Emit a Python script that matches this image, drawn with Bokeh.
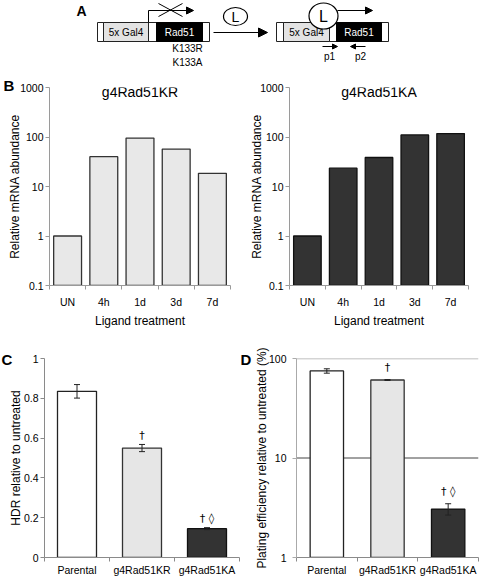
from bokeh.plotting import figure
from bokeh.layouts import column, row
from bokeh.models import (Range1d, FixedTicker, Label, Whisker, TeeHead, Title,
                          ColumnDataSource, Span, Arrow, NormalHead)
from bokeh.core.properties import value
from bokeh.embed import file_html
from bokeh.resources import INLINE

FONT = "Liberation Sans"
SYM_FONT = "DejaVu Sans"

# ---------------- data ----------------
time_points = ["UN", "4h", "1d", "3d", "7d"]
kr_mrna = [1, 40, 95, 57, 18.5]
ka_mrna = [1, 23.5, 38.5, 110, 117]
mrna_ticks = [0.1, 1, 10, 100, 1000]
mrna_tick_labels = ["0.1", "1", "10", "100", "1000"]

cell_lines = ["Parental", "g4Rad51KR", "g4Rad51KA"]
hdr_mean = [0.835, 0.55, 0.145]
hdr_err = [0.034, 0.018, 0.005]
hdr_ticks = [0, 0.2, 0.4, 0.6, 0.8, 1]
hdr_tick_labels = ["0", "0.2", "0.4", "0.6", "0.8", "1"]

plating_mean = [75, 60.8, 3.07]
plating_err = [3.8, 0.6, 0.4]
plating_ticks = [1, 10, 100]
plating_tick_labels = ["1", "10", "100"]

significance = ["", "\u2020", "\u2020 \u25ca"]

# ---------------- helpers ----------------
def base_fig(w, h, xr, yr, left, right, top, bottom, ytype="linear"):
    p = figure(width=w, height=h, x_range=xr, y_range=yr, y_axis_type=ytype,
               output_backend="svg", toolbar_location=None, title=None,
               min_border_left=left, min_border_right=right,
               min_border_top=top, min_border_bottom=bottom)
    p.outline_line_color = None
    p.xgrid.grid_line_color = None
    p.ygrid.grid_line_color = None
    p.background_fill_color = "white"
    p.border_fill_color = "white"
    return p


def style_axes(p, axis_color):
    for ax in p.axis:
        ax.axis_line_color = axis_color
        ax.major_tick_line_color = axis_color
        ax.minor_tick_line_color = axis_color
        ax.major_label_text_font = FONT
        ax.major_label_text_font_size = "10.5px"
        ax.major_label_text_color = "black"
        ax.axis_label_text_font = FONT
        ax.axis_label_text_font_size = "12px"
        ax.axis_label_text_font_style = "normal"
        ax.axis_label_text_color = "black"


def cat_xaxis(p, cats, standoff):
    centers = [i + 0.5 for i in range(len(cats))]
    p.xaxis.ticker = FixedTicker(ticks=centers, minor_ticks=list(range(len(cats) + 1)))
    p.xaxis.major_label_overrides = dict(zip(centers, cats))
    p.xaxis.major_tick_out = 0
    p.xaxis.major_tick_in = 0
    p.xaxis.minor_tick_out = 4
    p.xaxis.minor_tick_in = 0
    p.xaxis.major_label_standoff = standoff
    return centers


def y_ticks(p, ticks, labels, standoff, label_standoff):
    p.yaxis.ticker = FixedTicker(ticks=ticks)
    p.yaxis.major_label_overrides = dict(zip(ticks, labels))
    p.yaxis.major_tick_out = 4
    p.yaxis.major_tick_in = 0
    p.yaxis.minor_tick_line_color = None
    p.yaxis.major_label_standoff = standoff
    p.yaxis.axis_label_standoff = label_standoff


def panel_letter(p, txt, offset, standoff):
    p.add_layout(Title(text=txt, align="left", offset=offset, standoff=standoff,
                       text_font=FONT, text_font_size="15px",
                       text_font_style="bold", text_color="black"), "above")

# ---------------- panel A (schematic) ----------------
pA = figure(width=480, height=78, x_range=Range1d(0, 480), y_range=Range1d(78, 0),
            output_backend="svg", toolbar_location=None, title=None,
            x_axis_location=None, y_axis_location=None, min_border=0)
pA.outline_line_color = None
pA.xgrid.grid_line_color = None
pA.ygrid.grid_line_color = None

pA.quad(left=[97, 276], right=[209, 388], top=[22, 22], bottom=[41, 41],
        fill_color="white", line_color="#222222", line_width=1)
pA.quad(left=[103, 283], right=[148, 329], top=[22, 22], bottom=[41, 41],
        fill_color="#e3e3e3", line_color="#222222", line_width=1)
pA.quad(left=[156, 336], right=[202, 381], top=[22, 22], bottom=[41, 41],
        fill_color="black", line_color="black", line_width=1)
pA.text(x=[125.5, 306], y=[31.5, 31.5], text=["5x Gal4", "5x Gal4"],
        text_font=value(FONT), text_font_size="10px", text_align="center",
        text_baseline="middle", text_color="black")
pA.text(x=[179, 358.5], y=[31.5, 31.5], text=["Rad51", "Rad51"],
        text_font=value(FONT), text_font_size="10px", text_align="center",
        text_baseline="middle", text_color="white")
# left promoter arrow (blocked)
pA.segment(x0=[148], y0=[22], x1=[148], y1=[10], line_color="black", line_width=1)
pA.add_layout(Arrow(end=NormalHead(size=7, fill_color="black", line_color="black"),
                    x_start=148, y_start=10, x_end=193, y_end=10,
                    line_color="black", line_width=1))
pA.segment(x0=[158, 158], y0=[3, 16], x1=[182, 182], y1=[16, 3],
           line_color="black", line_width=1)
pA.text(x=[187, 187], y=[48, 62], text=["K133R", "K133A"], text_font=value(FONT),
        text_font_size="10px", text_align="center", text_baseline="middle",
        text_color="black")
# big arrow
pA.add_layout(Arrow(end=NormalHead(size=9, fill_color="black", line_color="black"),
                    x_start=213, y_start=32, x_end=267, y_end=32,
                    line_color="black", line_width=1))
# ligand ellipses
pA.ellipse(x=[235, 323], y=[16, 15.5], width=[24, 29], height=[18, 26],
           fill_color="white", line_color="black", line_width=1.2)
pA.text(x=[235, 323], y=[16.5, 16], text=["L", "L"], text_font=value(FONT),
        text_font_size=["14px", "16px"], text_align="center",
        text_baseline="middle", text_color="black")
# active promoter arrow
pA.add_layout(Arrow(end=NormalHead(size=7, fill_color="black", line_color="black"),
                    x_start=337, y_start=10, x_end=372, y_end=10,
                    line_color="black", line_width=1))
# primers
pA.add_layout(Arrow(end=NormalHead(size=5, fill_color="black", line_color="black"),
                    x_start=322, y_start=46, x_end=337, y_end=46,
                    line_color="black", line_width=1))
pA.add_layout(Arrow(end=NormalHead(size=5, fill_color="black", line_color="black"),
                    x_start=365, y_start=46, x_end=350, y_end=46,
                    line_color="black", line_width=1))
pA.text(x=[329, 360], y=[56, 56], text=["p1", "p2"], text_font=value(FONT),
        text_font_size="10px", text_align="center", text_baseline="middle",
        text_color="black")
pA.add_layout(Label(x=81, y=10, text="A", text_font=FONT, text_font_size="14px",
                    text_font_style="bold", text_align="center",
                    text_baseline="middle", text_color="black"))

# ---------------- panel B ----------------
def mrna_panel(vals, title, fill, line, left, right, label_standoff):
    p = base_fig(240, 252, Range1d(0, len(time_points)), Range1d(0.1, 1000),
                 left, right, 9, 36, ytype="log")
    style_axes(p, "#9a9a9a")
    xs = cat_xaxis(p, time_points, 6)
    y_ticks(p, mrna_ticks, mrna_tick_labels, 2, label_standoff)
    p.xaxis.axis_label = "Ligand treatment"
    p.xaxis.axis_label_standoff = 3
    p.yaxis.axis_label = "Relative mRNA abundance"
    src = ColumnDataSource(dict(x=xs, top=vals))
    p.vbar(x="x", top="top", bottom=0.1, width=0.77, source=src,
           fill_color=fill, line_color=line, line_width=1.3)
    p.add_layout(Label(x=len(time_points) / 2, y=800, text=title, text_font=FONT,
                       text_font_size="14px", text_align="center",
                       text_baseline="middle", text_color="black"))
    return p

pB1 = mrna_panel(kr_mrna, "g4Rad51KR", "#e8e8e8", "#333333", 49, 10, -5)
pB2 = mrna_panel(ka_mrna, "g4Rad51KA", "#333333", "#111111", 49, 12, -7)
panel_letter(pB1, "B", -46, -12)

# ---------------- panel C ----------------
bar_fills = ["#ffffff", "#e6e6e6", "#333333"]
bar_lines = ["#222222", "#333333", "#111111"]

pC = base_fig(240, 248, Range1d(0, len(cell_lines)), Range1d(0, 1), 44, 1, 25, 19)
style_axes(pC, "#8a8a8a")
xc = cat_xaxis(pC, cell_lines, 2)
y_ticks(pC, hdr_ticks, hdr_tick_labels, 2, -2)
pC.yaxis.axis_label = "HDR relative to untreated"
srcC = ColumnDataSource(dict(
    x=xc, top=hdr_mean,
    upper=[m + e for m, e in zip(hdr_mean, hdr_err)],
    lower=[m - e for m, e in zip(hdr_mean, hdr_err)],
    fill=bar_fills, line=bar_lines, sig=significance))
pC.vbar(x="x", top="top", bottom=0, width=0.6, source=srcC,
        fill_color="fill", line_color="line", line_width=1.3)
pC.add_layout(Whisker(source=srcC, base="x", upper="upper", lower="lower",
                      line_color="#222222", line_width=1, level="annotation",
                      upper_head=TeeHead(size=6, line_color="#222222", line_width=1),
                      lower_head=TeeHead(size=6, line_color="#222222", line_width=1)))
pC.text(x="x", y="upper", text="sig", source=srcC, text_font=value(SYM_FONT),
        text_font_size="11px", text_align="center", text_baseline="middle",
        y_offset=-9, text_color="black")
panel_letter(pC, "C", -43, -18)

# ---------------- panel D ----------------
pD = base_fig(240, 248, Range1d(0, len(cell_lines)), Range1d(1, 100), 56, 2, 28, 19,
              ytype="log")
style_axes(pD, "#8a8a8a")
pD.yaxis.axis_line_color = "#aaaaaa"
pD.yaxis.major_tick_line_color = "#aaaaaa"
xd = cat_xaxis(pD, cell_lines, 2)
y_ticks(pD, plating_ticks, plating_tick_labels, 6, -3)
pD.yaxis.axis_label = "Plating efficiency relative to untreated (%)"
pD.add_layout(Span(location=10, dimension="width", line_color="#444444",
                   line_width=1, level="underlay"))
pD.add_layout(Span(location=100, dimension="width", line_color="#aaaaaa",
                   line_width=1.5, level="underlay"))
srcD = ColumnDataSource(dict(
    x=xd, top=plating_mean,
    upper=[m + e for m, e in zip(plating_mean, plating_err)],
    lower=[m - e for m, e in zip(plating_mean, plating_err)],
    fill=bar_fills, line=bar_lines, sig=significance))
pD.vbar(x="x", top="top", bottom=1, width=0.55, source=srcD,
        fill_color="fill", line_color="line", line_width=1.3)
pD.add_layout(Whisker(source=srcD, base="x", upper="upper", lower="lower",
                      line_color="#222222", line_width=1, level="annotation",
                      upper_head=TeeHead(size=6, line_color="#222222", line_width=1),
                      lower_head=TeeHead(size=6, line_color="#222222", line_width=1)))
pD.text(x="x", y="upper", text="sig", source=srcD, text_font=value(SYM_FONT),
        text_font_size="11px", text_align="center", text_baseline="middle",
        y_offset=-12, text_color="black")
panel_letter(pD, "D", -56, -18)

layout = column(pA, row(pB1, pB2), row(pC, pD))
open("out.html", "w").write(file_html(layout, INLINE))
